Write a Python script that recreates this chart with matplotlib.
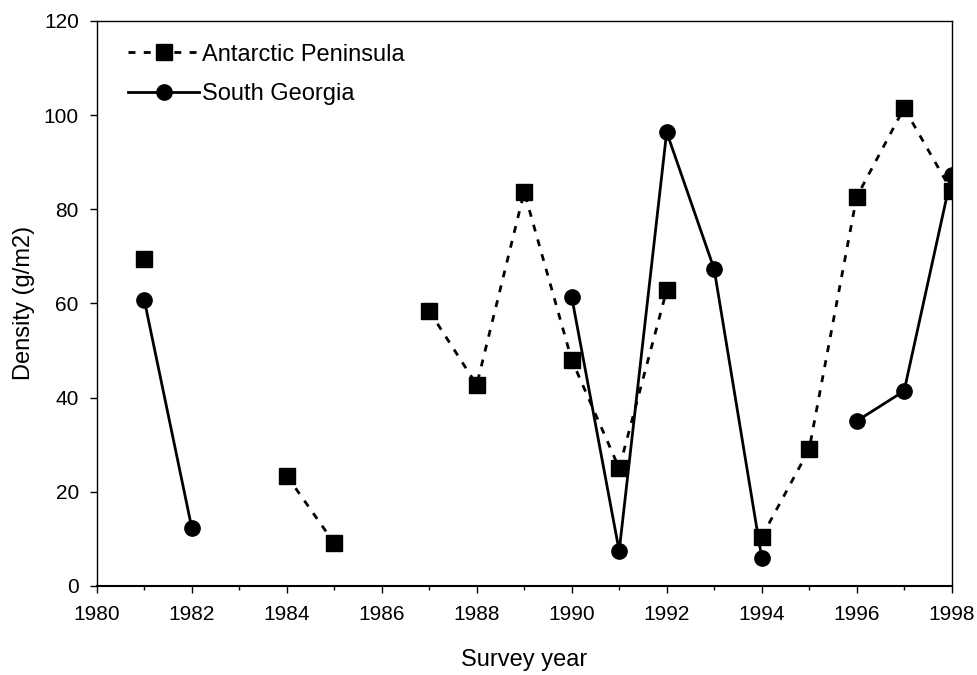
import numpy as np
import matplotlib
matplotlib.use("Agg")
import matplotlib.pyplot as plt
from matplotlib.ticker import MultipleLocator

plt.rcParams['font.family'] = ['Liberation Sans', 'DejaVu Sans']

years = list(range(1981, 1999))
nan = np.nan
antarctic_peninsula = [69.4, nan, nan, 23.4, 9.1, nan, 58.4, 42.7, 83.7, 48.0,
                       25.0, 62.8, nan, 10.4, 29.0, 82.6, 101.5, 83.9]
south_georgia = [60.7, 12.3, nan, nan, nan, nan, nan, nan, nan, 61.4,
                 7.4, 96.4, 67.3, 6.0, nan, 35.0, 41.4, 87.3]

fig = plt.figure(figsize=(9.78, 6.75), dpi=100)
ax = fig.add_axes([0.099, 0.132, 0.874, 0.837])

ax.plot(years, antarctic_peninsula, color='black', linestyle=(0, (2.5, 3)), lw=2,
        marker='s', markersize=11, label='Antarctic Peninsula')
ax.plot(years, south_georgia, color='black', linestyle='-', lw=2,
        marker='o', markersize=11, label='South Georgia')

ax.set_xlim(1980, 1998)
ax.set_ylim(0, 120)
ax.xaxis.set_major_locator(MultipleLocator(2))
ax.xaxis.set_minor_locator(MultipleLocator(1))
ax.yaxis.set_major_locator(MultipleLocator(20))
ax.tick_params(axis='both', which='major', labelsize=15, direction='out', length=5, width=1)
ax.tick_params(axis='x', which='major', pad=9)
ax.tick_params(axis='y', which='major', pad=8)
ax.tick_params(axis='x', which='minor', direction='out', length=3, width=1)
for s in ax.spines.values():
    s.set_linewidth(1)
ax.spines['bottom'].set_linewidth(1.5)

ax.set_xlabel('Survey year', fontsize=17, labelpad=18)
ax.set_ylabel('Density (g/m2)', fontsize=17, labelpad=6)

leg = ax.legend(loc='upper left', frameon=False, fontsize=17, handlelength=3.0,
                bbox_to_anchor=(0.02, 0.985), borderaxespad=0.2, handletextpad=0.15,
                labelspacing=0.75)

fig.savefig('out.png', dpi=100)
